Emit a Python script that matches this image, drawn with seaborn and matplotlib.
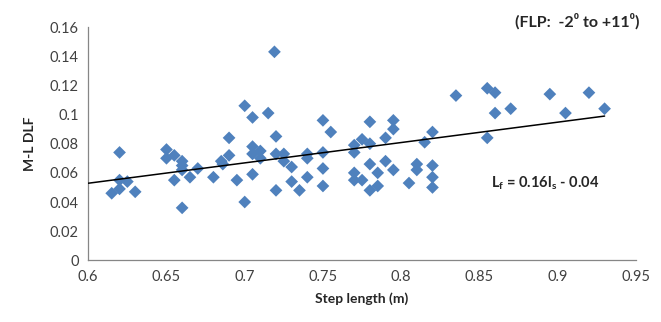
import numpy as np
import pandas as pd
import matplotlib
matplotlib.use("Agg")
import matplotlib.pyplot as plt
import seaborn as sns

# Step length (m) vs M-L DLF
step_length = [0.615, 0.620, 0.620, 0.620, 0.625, 0.630,
               0.650, 0.650, 0.655, 0.660, 0.660, 0.660, 0.655, 0.660, 0.665, 0.670, 0.680,
               0.700, 0.705, 0.715, 0.690, 0.720, 0.750, 0.755, 0.705, 0.710, 0.705, 0.710,
               0.690, 0.685, 0.686, 0.720, 0.725, 0.725, 0.730, 0.740, 0.740, 0.750, 0.750,
               0.695, 0.705, 0.730, 0.740, 0.750, 0.720, 0.735, 0.700, 0.719,
               0.780, 0.795, 0.795, 0.790, 0.775, 0.770, 0.780, 0.770, 0.820, 0.815, 0.780,
               0.790, 0.785, 0.795, 0.770, 0.770, 0.775, 0.780, 0.785, 0.805, 0.810, 0.810,
               0.820, 0.820, 0.820,
               0.835, 0.855, 0.860, 0.860, 0.870, 0.895, 0.905, 0.855, 0.920, 0.930]
ml_dlf = [0.046, 0.074, 0.055, 0.049, 0.054, 0.047,
          0.076, 0.070, 0.072, 0.068, 0.065, 0.062, 0.055, 0.036, 0.057, 0.063, 0.057,
          0.106, 0.098, 0.101, 0.084, 0.085, 0.096, 0.088, 0.078, 0.075, 0.073, 0.070,
          0.072, 0.068, 0.066, 0.073, 0.073, 0.068, 0.064, 0.073, 0.070, 0.074, 0.063,
          0.055, 0.059, 0.054, 0.057, 0.051, 0.048, 0.048, 0.040, 0.143,
          0.095, 0.096, 0.090, 0.084, 0.083, 0.079, 0.080, 0.074, 0.088, 0.081, 0.066,
          0.068, 0.060, 0.062, 0.060, 0.055, 0.055, 0.048, 0.051, 0.053, 0.066, 0.062,
          0.065, 0.057, 0.050,
          0.113, 0.118, 0.115, 0.101, 0.104, 0.114, 0.101, 0.084, 0.115, 0.104]

x_ticks = [0.6, 0.65, 0.7, 0.75, 0.8, 0.85, 0.9, 0.95]
y_ticks = [0, 0.02, 0.04, 0.06, 0.08, 0.1, 0.12, 0.14, 0.16]

df = pd.DataFrame({"step": step_length, "dlf": ml_dlf})

sns.set_style("white")
plt.rcParams["font.family"] = ["Lato", "DejaVu Sans"]
plt.rcParams["mathtext.fontset"] = "custom"
plt.rcParams["mathtext.rm"] = "Lato"
plt.rcParams["mathtext.bf"] = "Lato:bold"

fig = plt.figure(figsize=(6.61, 3.22), dpi=100)
ax = fig.add_axes([0.1335, 0.1915, 0.8285, 0.7245])

sns.scatterplot(data=df, x="step", y="dlf", marker="D", s=42,
                color="#4F81BD", edgecolor="none", ax=ax, zorder=2)

# linear trendline
slope, intercept = np.polyfit(df["step"], df["dlf"], 1)
xs = np.array([0.6, df["step"].max()])
ax.plot(xs, slope * xs + intercept, color="black", lw=1.1, zorder=3)

ax.set_xlim(0.6, 0.95)
ax.set_ylim(0, 0.16)
ax.set_xticks(x_ticks)
ax.set_xticklabels([f"{t:g}" for t in x_ticks])
ax.set_yticks(y_ticks)
ax.set_yticklabels([f"{t:g}" for t in y_ticks])
ax.tick_params(axis="both", direction="out", length=4, width=0.8,
               color="#868686", labelcolor="#404040", labelsize=10.5, pad=3)

for side in ["top", "right"]:
    ax.spines[side].set_visible(False)
for side in ["left", "bottom"]:
    ax.spines[side].set_color("#868686")
    ax.spines[side].set_linewidth(0.9)

ax.set_xlabel("Step length (m)", fontsize=10, fontweight="bold", color="#262626", labelpad=6)
ax.set_ylabel("M-L DLF", fontsize=10, fontweight="bold", color="#262626", labelpad=10)

fig.text(0.968, 0.935, "(FLP:  -2\u2070 to +11\u2070)", ha="right", va="center",
         fontsize=11.5, fontweight="bold", color="#262626", family=["Lato", "DejaVu Sans"])
ax.text(0.892, 0.053, r"L$_\mathbf{f}$ = 0.16l$_\mathbf{s}$ - 0.04", ha="center", va="center",
        fontsize=10.5, fontweight="bold", color="#262626")

fig.savefig("out.png", dpi=100)
